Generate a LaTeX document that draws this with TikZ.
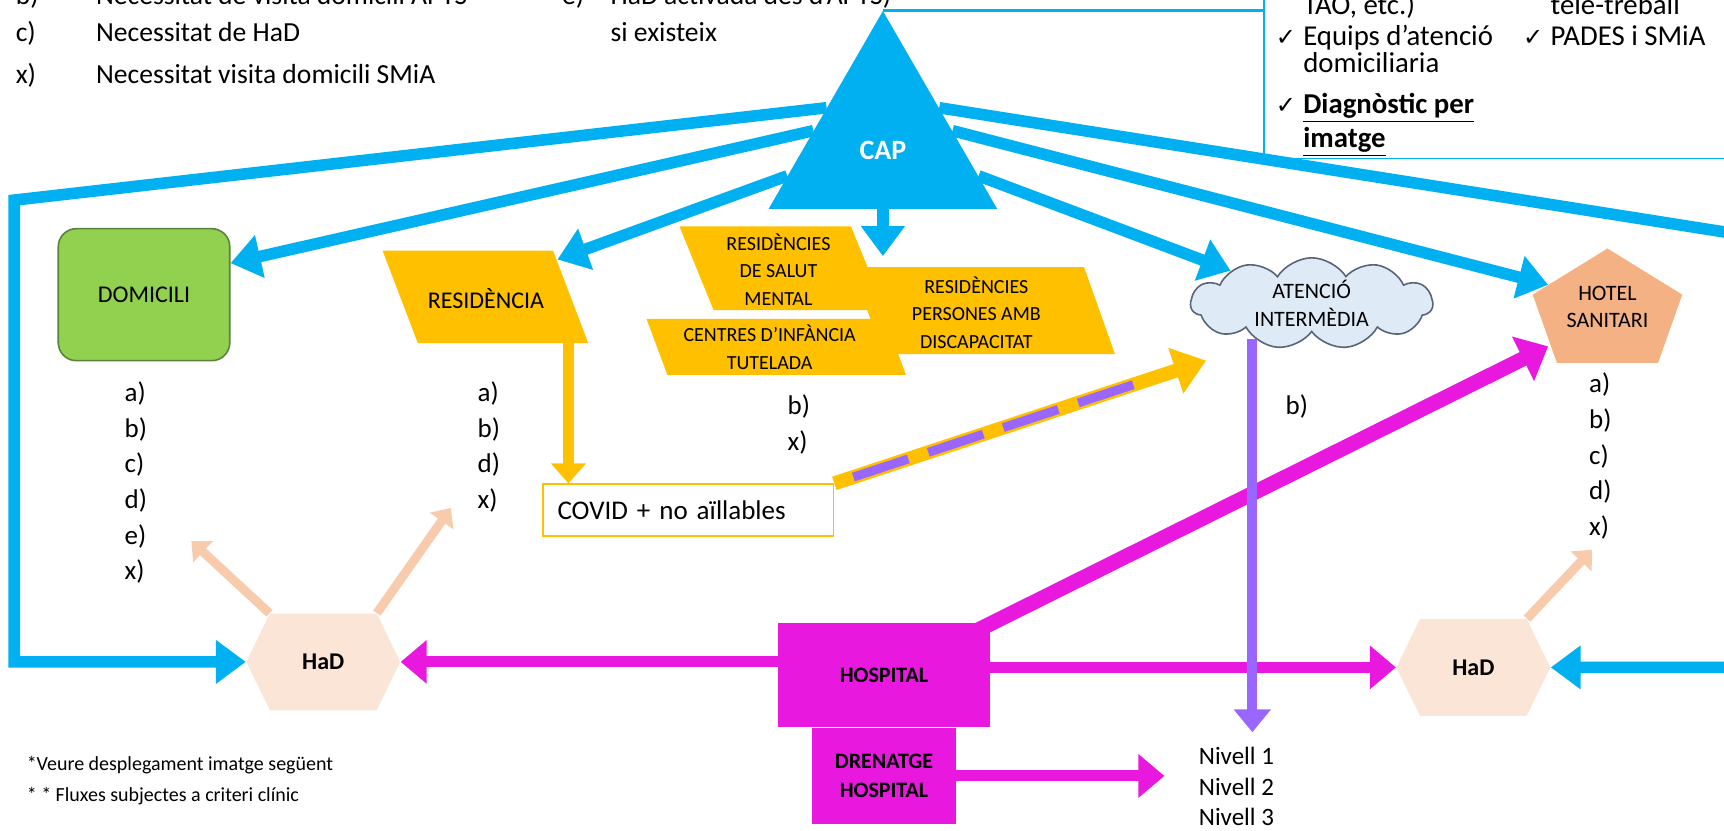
\documentclass[tikz,border=0pt]{standalone}
\usepackage{fontspec}
\setmainfont{Carlito}
\newfontfamily\checkfont{DejaVu Sans}
\usetikzlibrary{arrows.meta,positioning,shapes.geometric,shapes.symbols}
\definecolor{CAPblue}{RGB}{0,176,240}
\definecolor{RESyellow}{RGB}{255,192,0}
\definecolor{DOMgreen}{RGB}{146,208,80}
\definecolor{DOMedge}{RGB}{90,130,60}
\definecolor{HOSPmagenta}{RGB}{232,24,222}
\definecolor{HaDpeach}{RGB}{251,229,214}
\definecolor{HaDarrow}{RGB}{248,203,173}
\definecolor{HOTELorange}{RGB}{244,177,131}
\definecolor{ATfill}{RGB}{222,235,247}
\definecolor{ATedge}{RGB}{90,100,120}
\definecolor{NIVpurple}{RGB}{153,102,255}
\newcommand{\chkmark}{{\checkfont\fontsize{12}{12}\selectfont ✓}}

\begin{document}
\begin{tikzpicture}[x=0.55pt,y=-0.55pt,
  every node/.style={inner sep=0pt},
  toptext/.style={anchor=base west,font=\fontsize{13.8}{20.9}\selectfont},
  boxtext/.style={anchor=base west,font=\fontsize{14.4}{15}\selectfont},
  letters/.style={anchor=north west,align=left,font=\fontsize{13.5}{17.8}\selectfont},
  shapetext/.style={align=center,font=\fontsize{12}{14}\selectfont},
  smalltext/.style={align=center,font=\fontsize{10}{13.75}\selectfont},
  hadbox/.style={signal,signal to=east and west,signal pointer angle=128,fill=HaDpeach,
    minimum width=77pt,minimum height=48.4pt,font=\fontsize{12}{12}\selectfont\bfseries},
  hospbox/.style={fill=HOSPmagenta,align=center,font=\fontsize{11}{14.85}\selectfont\bfseries},
  captip/.style={CAPblue,line width=5.8pt,-{Triangle[length=15pt,width=21pt]}},
  hosptip/.style={HOSPmagenta,line width=5.5pt,-{Triangle[length=13pt,width=21pt]}},
  hadtip/.style={HaDarrow,line width=4.5pt,-{Triangle[length=8pt,width=14pt]}},
  restip/.style={RESyellow,line width=5.5pt,-{Triangle[length=10pt,width=17pt]}},
  nivtip/.style={NIVpurple,line width=5pt,-{Triangle[length=11.5pt,width=18pt]}}]
  \useasboundingbox (0,0) rectangle (1568,755);
  \clip (0,0) rectangle (1568,755);

  % criteris
  \foreach \lbl/\txt/\yy [count=\i] in {b)/Necessitat de visita domicili APTS/4,
      c)/Necessitat de HaD/37.5, x)/Necessitat visita domicili SMiA/75.5}
    {\node[toptext] (crit\i) at (14,\yy) {\lbl};
     \node[toptext] (crittxt\i) at (87,\yy) {\txt};}
  \node[toptext] (critE) at (511,4) {e)};
  \node[toptext] (critEtxt) at (555,4) {HaD activada des d’APTS)};
  \node[toptext] (critSi) at (555,37.5) {si existeix};

  % recursos
  \node[draw=CAPblue,line width=0.9pt,minimum width=275pt,minimum height=110pt,anchor=south west] (tbox) at (1149,145) {};
  \node[boxtext] (tb1) at (1185,13) {TAO, etc.)};
  \node[boxtext] (tb2) at (1160,41) {\chkmark};
  \node[boxtext] (tb3) at (1185,41) {Equips d’atenció};
  \node[boxtext] (tb4) at (1185,66) {domiciliaria};
  \node[boxtext] (tb5) at (1160,103) {\chkmark};
  \node[boxtext] (tb6) at (1185,103) {\underline{\textbf{Diagnòstic per}}};
  \node[boxtext] (tb7) at (1185,134) {\underline{\textbf{imatge}}};
  \node[boxtext] (tb8) at (1410,13) {tele-treball};
  \node[boxtext] (tb9) at (1385,41) {\chkmark};
  \node[boxtext] (tb10) at (1410,41) {PADES i SMiA};

  % CAP
  \node[regular polygon,regular polygon sides=3,fill=CAPblue,minimum size=132pt] (cap) at (803,130) {};
  \node[text=white,font=\fontsize{14}{14}\selectfont\bfseries] (caplabel) at (803,137) {CAP};
  \draw[CAPblue,line width=1.5pt] (cap.north) -- (cap.north -| tbox.west);

  % destins
  \node[fill=DOMgreen,draw=DOMedge,line width=0.8pt,rounded corners=9pt,
    minimum width=85.8pt,minimum height=66pt,shapetext] (dom) at (131,268) {DOMICILI};
  \fill[RESyellow] (348,228) -- (503,228) -- (535,312) -- (380,312) -- cycle;
  \node[shapetext] (res) at (442,272) {RESIDÈNCIA};
  \fill[RESyellow] (618,206) -- (774,206) -- (805,282) -- (649,282) -- cycle;
  \fill[RESyellow] (775,243) -- (986,243) -- (1014,322) -- (803,322) -- cycle;
  \fill[RESyellow] (588,290) -- (805,290) -- (824,341) -- (607,341) -- cycle;
  \node[smalltext] (salut) at (708,245) {RESIDÈNCIES\\DE SALUT\\MENTAL};
  \node[smalltext] (centres) at (700,316) {CENTRES D’INFÀNCIA\\TUTELADA};
  \node[smalltext] (discap) at (888,284) {RESIDÈNCIES\\PERSONES AMB\\DISCAPACITAT};
  \node[draw=RESyellow,line width=0.9pt,fill=white,minimum width=145.2pt,minimum height=25.9pt,
    inner xsep=7.2pt,text width=130.8pt,align=left,font=\fontsize{13.5}{14}\selectfont] (covid) at (626,464) {COVID + no aïllables};
  \node[cloud,cloud puffs=11,cloud puff arc=115,aspect=2.9,fill=ATfill,draw=ATedge,line width=0.8pt,
    minimum width=121pt,minimum height=41.8pt,align=center,font=\fontsize{11}{13.75}\selectfont] (atencio) at (1193,276) {ATENCIÓ\\INTERMÈDIA};
  \fill[HOTELorange] (1462,226) -- (1530,268) -- (1508,330) -- (1416,330) -- (1394,268) -- cycle;
  \node[align=center,font=\fontsize{11}{13.2}\selectfont] (hotel) at (1462,279) {HOTEL\\SANITARI};

  % necessitats
  \node[letters] (domlist) at (113,347) {a)\\b)\\c)\\d)\\e)\\x)};
  \node[letters] (reslist) at (434,347) {a)\\b)\\d)\\x)};
  \node[letters] (grouplist) at (716,359) {b)\\x)};
  \node[letters] (atlist) at (1169,359) {b)};
  \node[letters] (hotellist) at (1445,339) {a)\\b)\\c)\\d)\\x)};

  % HaD i hospital
  \node[hadbox] (hadL) at (294,602) {HaD};
  \node[hadbox] (hadR) at (1340,607) {HaD};
  \node[hospbox,minimum width=105.6pt,minimum height=51.7pt] (hosp) at (804,614) {HOSPITAL};
  \node[hospbox,minimum width=72pt,minimum height=48.4pt,below=0pt of hosp] (dren) {DRENATGE\\HOSPITAL};
  \node[anchor=north west,align=left,font=\fontsize{12.5}{15.4}\selectfont] (nivells) at (1090,679) {Nivell 1\\Nivell 2\\Nivell 3};
  \node[anchor=base west,font=\fontsize{10}{10}\selectfont] (note1) at (24,701) {*Veure desplegament imatge següent};
  \node[anchor=base west,font=\fontsize{10}{10}\selectfont] (note2) at (24,729) {* * Fluxes subjectes a criteri clínic};

  \coordinate (lcorner) at (13,182);
  \coordinate (rcorner) at (1600,216);
  \coordinate (resTR) at (507,236);
  \coordinate (resB) at (517,312);
  \coordinate (resgroup) at (803,233);
  \coordinate (hotelN) at (1408,259);
  \coordinate (hotelS) at (1408,315);
  \coordinate (covidtip) at (1097,328);
  \coordinate (nivtop) at (1139,666);
  \coordinate (domback) at (174,492);
  \coordinate (resback) at (410,462);
  \coordinate (hotelback) at (1448,500);

  % fluxos CAP
  \draw[captip] (cap.148) -- (lcorner) |- (hadL.west);
  \draw[captip] (cap.170) -- (dom.20);
  \draw[captip] (cap.199) -- (resTR);
  \draw[captip] (cap.south) -- (resgroup);
  \draw[captip] (cap.341) -- (atencio.158);
  \draw[captip] (cap.10) -- (hotelN);
  \draw[captip] (cap.32) -- (rcorner) |- (hadR.east);

  % fluxos residencia
  \draw[restip] (resB) -- (resB |- covid.north);
  \draw[RESyellow,line width=7pt,-{Triangle[length=16pt,width=23pt]}] (covid.north east) -- (covidtip);
  \draw[NIVpurple,line width=4.5pt,dash pattern=on 29pt off 10.5pt,shorten <=10pt,shorten >=30pt] (covid.north east) -- (covidtip);

  % fluxos hospital
  \draw[hosptip] (hosp.west |- hadL.east) -- (hadL.east);
  \draw[hosptip] (hosp.east |- hadR.west) -- (hadR.west);
  \draw[HOSPmagenta,line width=7.5pt,-{Triangle[length=14pt,width=24pt]}] ([xshift=-7pt,yshift=-4pt]hosp.north east) -- (hotelS);
  \draw[hosptip,shorten >=17pt] (dren.east) -- (dren.east -| nivells.west);
  \draw[nivtip,shorten <=3pt] (atencio.south -| nivtop) -- (nivtop);

  % retorns HaD
  \draw[hadtip] (hadL.north west) -- (domback);
  \draw[hadtip] (hadL.north east) -- (resback);
  \draw[hadtip] (hadR.north east) -- (hotelback);
\end{tikzpicture}
\end{document}
